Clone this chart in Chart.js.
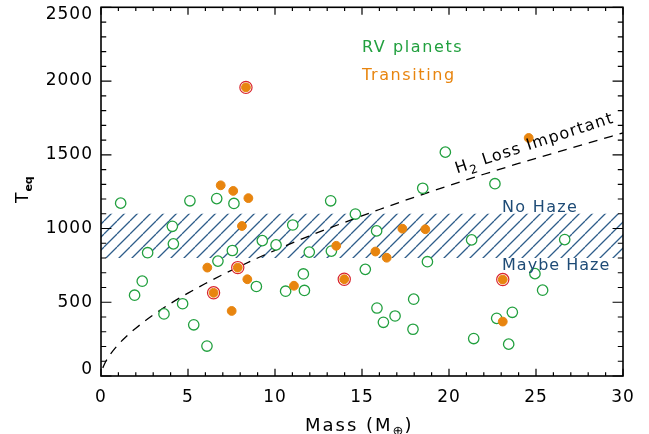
<!DOCTYPE html>
<html>
<head>
<meta charset="utf-8">
<script src="https://cdn.jsdelivr.net/npm/chart.js@4.4.1/dist/chart.umd.min.js"></script>
<style>
  html, body { margin: 0; padding: 0; background: #fff; }
  #plot { display: block; }
</style>
</head>
<body>
<canvas id="plot" width="649" height="434"></canvas>
<script>
// RV planets (open green circles)
const rvMass = [1.13, 5.11, 6.65, 7.64, 4.10, 11.02, 4.16, 2.68, 9.27, 10.06, 7.55, 6.72, 8.93, 10.61, 2.37,
  1.93, 4.69, 3.62, 5.33, 6.09, 18.49, 13.2, 14.62, 15.84, 21.3, 13.24, 11.97, 18.76, 15.19, 11.63,
  11.69, 17.97, 15.86, 16.9, 16.23, 17.93, 21.42, 22.64, 26.65, 24.94, 25.38, 23.64, 22.74, 23.43, 19.79];
const rvTeq = [1172, 1188, 1203, 1170, 1015, 1024, 896, 836, 918, 889, 851, 779, 607, 575, 643,
  548, 490, 421, 347, 203, 1273, 1188, 1098, 984, 923, 847, 840, 775, 723, 692,
  580, 521, 461, 407, 364, 317, 254, 1304, 925, 694, 582, 432, 391, 216, 1518];

// transiting planets (filled orange)
const trMass = [8.33, 6.88, 7.60, 8.47, 8.10, 6.11, 7.86, 8.41, 11.09, 6.47, 7.51, 17.32, 18.64, 13.52,
  15.77, 16.42, 13.98, 23.09, 23.09, 24.58];
const trTeq = [1957, 1293, 1255, 1206, 1017, 735, 735, 656, 612, 564, 441, 999, 995, 883,
  844, 802, 656, 654, 369, 1614];

// transiting planets circled in red
const ringMass = [8.33, 7.86, 6.47, 13.98, 23.09];
const ringTeq = [1957, 735, 564, 656, 654];

// dashed H2 loss boundary
const lossMass = [0.1, 0.25, 0.5, 1, 1.5, 2, 3, 4, 5, 6, 7, 8, 9, 10, 12, 14, 16, 18, 20, 22, 24, 26, 28, 30];
const lossTeq = [55, 93, 141, 214, 273, 324, 414, 492, 562, 627, 688, 745, 800, 852, 951, 1042, 1129,
  1212, 1291, 1368, 1441, 1511, 1580, 1648];

// hatched haze band
const hazeLow = 800;
const hazeHigh = 1100;

const xTicks = [0, 5, 10, 15, 20, 25, 30];
const yTicks = [0, 500, 1000, 1500, 2000, 2500];

const GREEN = '#22a03f';
const ORANGE = '#e8850f';
const RED = '#d9262e';
const NAVY = '#1e4b76';
const HATCH = '#2e5d8a';

const pts = (xs, ys) => xs.map((x, i) => ({ x: x, y: ys[i] }));

function hatchPattern() {
  const s = 13;
  const c = document.createElement('canvas');
  c.width = s; c.height = s;
  const g = c.getContext('2d');
  g.strokeStyle = HATCH;
  g.lineWidth = 1.3;
  g.beginPath();
  [-s, 0, s].forEach(k => { g.moveTo(k, s); g.lineTo(k + s, 0); });
  g.stroke();
  return g.createPattern(c, 'repeat');
}

function spaced(ctx, txt, x, y, font, gap) {
  ctx.font = font;
  ctx.letterSpacing = gap + 'px';
  ctx.fillText(txt, x, y);
  const w = ctx.measureText(txt).width;
  ctx.letterSpacing = '0px';
  return w;
}

const frame = {
  id: 'frame',
  beforeDraw(chart) {
    const ctx = chart.ctx;
    ctx.save();
    ctx.fillStyle = '#fff';
    ctx.fillRect(0, 0, chart.width, chart.height);
    ctx.restore();
  },
  afterDraw(chart) {
    const ctx = chart.ctx;
    const a = chart.chartArea;
    const xs = chart.scales.x, ys = chart.scales.y;
    const w = a.right - a.left, h = a.bottom - a.top;
    ctx.save();

    // box
    ctx.strokeStyle = '#000';
    ctx.lineWidth = 1.6;
    ctx.strokeRect(a.left, a.top, w, h);

    // inward ticks, IDL style
    ctx.lineWidth = 1.2;
    ctx.beginPath();
    for (let v = xTicks[0]; v <= xTicks[xTicks.length - 1]; v += 1) {
      const px = xs.getPixelForValue(v);
      const len = xTicks.includes(v) ? 0.02 * h : 0.01 * h;
      ctx.moveTo(px, a.bottom); ctx.lineTo(px, a.bottom - len);
      ctx.moveTo(px, a.top); ctx.lineTo(px, a.top + len);
    }
    for (let v = yTicks[0]; v <= yTicks[yTicks.length - 1]; v += 100) {
      const py = ys.getPixelForValue(v);
      const len = yTicks.includes(v) ? 0.02 * w : 0.01 * w;
      ctx.moveTo(a.left, py); ctx.lineTo(a.left + len, py);
      ctx.moveTo(a.right, py); ctx.lineTo(a.right - len, py);
    }
    ctx.stroke();

    // tick labels
    ctx.fillStyle = '#000';
    ctx.textBaseline = 'middle';
    ctx.textAlign = 'center';
    xTicks.forEach(v => spaced(ctx, String(v), xs.getPixelForValue(v), 398, '17px "DejaVu Sans"', 1));
    ctx.textAlign = 'right';
    yTicks.forEach(v => {
      const py = Math.min(Math.max(ys.getPixelForValue(v), 15), 370);
      spaced(ctx, String(v), 93, py, '17px "DejaVu Sans"', 1);
    });

    // axis titles
    ctx.textAlign = 'left';
    ctx.textBaseline = 'alphabetic';
    let x0 = 305;
    x0 += spaced(ctx, 'Mass (M', x0, 431, '18px "DejaVu Sans"', 2);
    x0 += spaced(ctx, '\u2295', x0, 435, '13px "DejaVu Sans"', 0) + 1;
    spaced(ctx, ')', x0, 431, '18px "DejaVu Sans"', 2);

    ctx.save();
    ctx.translate(28, 203);
    ctx.rotate(-Math.PI / 2);
    const tw = spaced(ctx, 'T', 0, 0, '17px "DejaVu Sans"', 0);
    spaced(ctx, 'eq', tw + 1, 4, 'bold 11px "DejaVu Sans"', 0);
    ctx.restore();

    // key text
    ctx.textBaseline = 'middle';
    ctx.fillStyle = GREEN;
    spaced(ctx, 'RV planets', xs.getPixelForValue(15.0), ys.getPixelForValue(2227), '16px "DejaVu Sans"', 1.6);
    ctx.fillStyle = ORANGE;
    spaced(ctx, 'Transiting', xs.getPixelForValue(15.0), ys.getPixelForValue(2032), '16px "DejaVu Sans"', 1.6);

    ctx.fillStyle = NAVY;
    spaced(ctx, 'No Haze', xs.getPixelForValue(23.05), ys.getPixelForValue(1137), '16px "DejaVu Sans"', 1.3);
    spaced(ctx, 'Maybe Haze', xs.getPixelForValue(23.05), ys.getPixelForValue(747), '16px "DejaVu Sans"', 1);

    // curve label, along the dashed line
    ctx.fillStyle = '#000';
    ctx.textBaseline = 'alphabetic';
    ctx.save();
    ctx.translate(xs.getPixelForValue(20.46), ys.getPixelForValue(1373));
    ctx.rotate(-18 * Math.PI / 180);
    let t = spaced(ctx, 'H', 0, 0, '16px "DejaVu Sans"', 1.3);
    t += spaced(ctx, '2', t, 5, '12px "DejaVu Sans"', 1);
    spaced(ctx, ' Loss Important', t, 0, '16px "DejaVu Sans"', 1.3);
    ctx.restore();

    ctx.restore();
  }
};

new Chart(document.getElementById('plot'), {
  type: 'scatter',
  data: {
    datasets: [
      {
        type: 'line',
        label: 'haze band',
        data: [{ x: xTicks[0], y: hazeHigh }, { x: xTicks[xTicks.length - 1], y: hazeHigh }],
        fill: { value: hazeLow },
        backgroundColor: hatchPattern(),
        borderWidth: 0,
        pointRadius: 0,
        order: 5
      },
      {
        type: 'line',
        label: 'H2 loss',
        data: pts(lossMass, lossTeq),
        borderColor: '#000',
        borderWidth: 1.3,
        borderDash: [9, 7],
        cubicInterpolationMode: 'monotone',
        fill: false,
        pointRadius: 0,
        order: 4
      },
      {
        label: 'RV planets',
        data: pts(rvMass, rvTeq),
        pointRadius: 5.2,
        pointBorderWidth: 1.3,
        pointBorderColor: GREEN,
        pointBackgroundColor: '#fff',
        order: 3
      },
      {
        label: 'circled',
        data: pts(ringMass, ringTeq),
        pointRadius: 6.1,
        pointBorderWidth: 1.2,
        pointBorderColor: RED,
        pointBackgroundColor: '#fff',
        order: 2
      },
      {
        label: 'Transiting',
        data: pts(trMass, trTeq),
        pointRadius: 4.4,
        pointBorderWidth: 1,
        pointBorderColor: ORANGE,
        pointBackgroundColor: ORANGE,
        order: 1
      }
    ]
  },
  options: {
    responsive: false,
    animation: false,
    devicePixelRatio: 1,
    layout: { padding: { left: 101, right: 26, top: 5, bottom: 58 } },
    scales: {
      x: { type: 'linear', min: xTicks[0], max: xTicks[xTicks.length - 1], display: false },
      y: { type: 'linear', min: yTicks[0], max: yTicks[yTicks.length - 1], display: false }
    },
    plugins: { legend: { display: false }, tooltip: { enabled: false } }
  },
  plugins: [frame]
});
</script>
</body>
</html>
